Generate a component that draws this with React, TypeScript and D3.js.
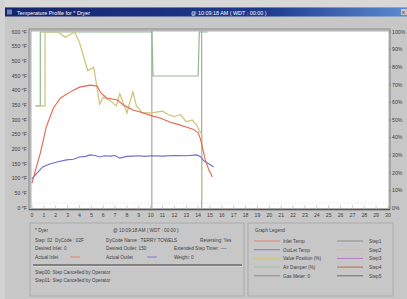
import { useEffect } from "react";
import * as d3 from "d3";

// ---- chart data ----
const inletT = [0, 0.3, 0.7, 1.2, 1.8, 2.4, 3.2, 4, 4.9, 5.5, 5.8, 6.3, 7.2, 7.7, 8.5, 9.4, 10.1, 10.8, 11.6, 12.3, 13, 13.6, 14, 14.2, 14.4, 14.6, 14.9, 15.2];
const inletF = [85, 130, 187, 276, 341, 375, 395, 412, 419, 415, 392, 375, 368, 351, 334, 324, 314, 307, 293, 285, 276, 268, 256, 235, 200, 164, 130, 106];

const outletT = [0, 0.5, 0.9, 1.5, 2.1, 2.9, 3.5, 4, 4.5, 4.9, 5.3, 5.7, 6.1, 6.6, 7, 7.4, 8, 8.5, 9, 9.5, 10, 11, 12, 13, 13.9, 14.2, 14.5, 15, 15.3];
const outletF = [100, 122, 140, 150, 157, 164, 166, 174, 176, 181, 179, 174, 178, 177, 179, 170, 176, 177, 178, 176, 178, 177, 179, 178, 181, 175, 160, 148, 140];

// valve position and air damper in percent (right axis)
const valveT = [0.3, 1.1, 1.1, 2.2, 2.8, 3.6, 4.0, 4.7, 5.2, 5.7, 6.0, 6.6, 7.1, 7.4, 8.0, 8.5, 8.8, 9.3, 10.1, 11, 11.5, 12, 12.5, 13, 13.5, 13.9, 14.1, 14.3, 14.3];
const valvePct = [58, 58, 100, 100, 97, 100, 94, 78, 80, 59, 63, 61, 58, 65, 54, 66, 58, 54, 54, 55, 53, 52, 53, 49, 50, 47, 44, 42, 5];

const damperT = [0.3, 0.7, 0.7, 10.1, 10.2, 14.0, 14.1, 14.8];
const damperPct = [58, 58, 100, 100, 75, 75, 100, 100];

const stepMarks = [10.1, 14.3];

const xTicks = d3.range(0, 31);
const yLeftTicks = d3.range(0, 601, 50);
const yRightTicks = d3.range(0, 101, 10);

const infoHeader = ["* Dyer", "@ 10:09:18 AM  ( WDT : 00:00  )"];
const infoRow1 = ["Step: 02", "DyCode : 02F", "DyCode Name : TERRY TOWELS", "Reversing: Yes"];
const infoRow2 = ["Desired Inlet: 0", "Desired Outlet: 150", "Extended Step Timer: ----"];
const infoRow3 = ["Actual Inlet", "Actual Outlet", "Weight: 0"];
const stepLog = ["Step00: Step Cancelled by Operator", "Step01: Step Cancelled by Operator"];

const legendLeft = ["Inlet Temp", "OutLet Temp", "Valve Position (%)", "Air Damper (%)", "Gas Meter: 0"];
const legendLeftColors = ["#e8806c", "#7a7ad6", "#cfc57e", "#92c492", "#8a8a8a"];
const legendRight = ["Step1", "Step2", "Step3", "Step4", "Step5"];
const legendRightColors = ["#8c8c8c", "#e6b87e", "#b47cc8", "#c8604e", "#6e6e6e"];

const W = 407;
const H = 299;
const FONT = "'Liberation Sans', Arial, sans-serif";
const TXT = "#404040";

export default function App() {
  useEffect(() => {
    document.body.style.margin = "0";
  }, []);

  const x = d3.scaleLinear().domain([0, 30]).range([32, 388]);
  const yF = d3.scaleLinear().domain([0, 600]).range([208, 32]);
  const yP = d3.scaleLinear().domain([0, 100]).range([208, 32]);

  const lineF = (ts: number[], vs: number[]) =>
    d3.line<number>().x((_, i) => x(ts[i])).y((v) => yF(v))(vs) || "";
  const lineP = (ts: number[], vs: number[]) =>
    d3.line<number>().x((_, i) => x(ts[i])).y((v) => yP(v))(vs) || "";

  const fs = 5.2;
  const fi = 4.7; // info / legend text

  return (
    <svg width={W} height={H} viewBox={`0 0 ${W} ${H}`} style={{ display: "block" }} fontFamily={FONT}>
      <defs>
        <linearGradient id="tb" x1="0" x2="1" y1="0" y2="0">
          <stop offset="0" stopColor="#16246c" />
          <stop offset="0.65" stopColor="#1e3a8e" />
          <stop offset="1" stopColor="#5b8bd2" />
        </linearGradient>
      </defs>
      {/* window background */}
      <rect x={0} y={0} width={W} height={H} fill="#c7c7c7" />
      <rect x={0} y={0} width={W} height={7} fill="#d8d8d8" />
      <rect x={0} y={0} width={5} height={H} fill="#d2d2d2" />

      {/* title bar */}
      <rect x={5} y={7.5} width={402} height={9} fill="url(#tb)" />
      <rect x={7} y={9.5} width={5} height={5} fill="#6d7fb8" />
      <text x={17} y={14.5} fontSize={5.4} fill="#ffffff">Temperature Profile for * Dryer</text>
      <text x={191} y={14.5} fontSize={5.4} fill="#ffffff">@ 10:09:18 AM   ( WDT : 00:00   )</text>
      <rect x={401} y={9} width={6} height={6} fill="#c8c8c8" />
      <text x={402} y={14} fontSize={5.5} fill="#222">x</text>

      {/* plot frame */}
      <rect x={29} y={29} width={361} height={181} fill="none" stroke="#8a8a8a" strokeWidth={1} />
      <rect x={31} y={31} width={358} height={177.5} fill="#ffffff" stroke="#a0a0a0" strokeWidth={0.8} />

      {/* faint baseline dots and minor ticks */}
      <line x1={x(0)} x2={x(30)} y1={203} y2={203} stroke="#dcdcdc" strokeWidth={0.8} strokeDasharray="1.5,2" />
      {xTicks.map((t) => (
        <line key={"mt" + t} x1={x(t)} x2={x(t)} y1={205} y2={208.5} stroke="#bdbdbd" strokeWidth={0.7} />
      ))}
      <line x1={29} x2={390} y1={209.5} y2={209.5} stroke="#555" strokeWidth={1.2} />

      {/* step markers */}
      {stepMarks.map((t) => (
        <line key={"s" + t} x1={x(t)} x2={x(t)} y1={31} y2={208} stroke="#9e9e9e" strokeWidth={1.1} />
      ))}

      {/* series */}
      <path d={lineP(damperT, damperPct)} fill="none" stroke="#92b892" strokeWidth={1.2} />
      <path d={lineP(valveT, valvePct)} fill="none" stroke="#cdc275" strokeWidth={1.2} />
      <path d={lineF(outletT, outletF)} fill="none" stroke="#6c6cd2" strokeWidth={1.1} />
      <path d={lineF(inletT, inletF)} fill="none" stroke="#e2644e" strokeWidth={1.1} />

      {/* left axis labels */}
      {yLeftTicks.map((v) => (
        <text key={"l" + v} x={27} y={yF(v) + 1.8} fontSize={fs} fill={TXT} textAnchor="end">
          {v} °F
        </text>
      ))}
      {/* right axis labels */}
      {yRightTicks.map((v) => (
        <g key={"r" + v}>
          <line x1={389} x2={391} y1={yP(v)} y2={yP(v)} stroke="#777" strokeWidth={0.6} />
          <text x={392} y={yP(v) + 1.8} fontSize={fs} fill={TXT}>
            {v}%
          </text>
        </g>
      ))}
      {/* x axis labels */}
      {xTicks.map((t) => (
        <text key={"x" + t} x={x(t)} y={217} fontSize={fs} fill={TXT} textAnchor="middle">
          {t}
        </text>
      ))}

      {/* info panel */}
      <rect x={30} y={223} width={214} height={73} fill="none" stroke="#a6a6a6" strokeWidth={0.8} />
      <text x={35} y={231.5} fontSize={fi} fill={TXT}>{infoHeader[0]}</text>
      <text x={113} y={231.5} fontSize={fi} fill={TXT}>{infoHeader[1]}</text>
      {[35, 55, 106, 200].map((px, i) => (
        <text key={"r1" + i} x={px} y={241.5} fontSize={fi} fill={TXT}>{infoRow1[i]}</text>
      ))}
      {[35, 106, 174].map((px, i) => (
        <text key={"r2" + i} x={px} y={250} fontSize={fi} fill={TXT}>{infoRow2[i]}</text>
      ))}
      {[35, 106, 174].map((px, i) => (
        <text key={"r3" + i} x={px} y={258.5} fontSize={fi} fill={TXT}>{infoRow3[i]}</text>
      ))}
      <line x1={70} x2={80} y1={257} y2={257} stroke="#e8806c" strokeWidth={1} />
      <line x1={147} x2={157} y1={257} y2={257} stroke="#7a7ad6" strokeWidth={1} />
      <line x1={33} x2={242} y1={265} y2={265} stroke="#6a6a6a" strokeWidth={1.4} />
      <line x1={33} x2={242} y1={266.5} y2={266.5} stroke="#e2e2e2" strokeWidth={0.6} />
      {stepLog.map((s, i) => (
        <text key={"sl" + i} x={35} y={273.5 + i * 8.5} fontSize={fi} fill={TXT}>{s}</text>
      ))}

      {/* legend panel */}
      <rect x={248} y={223} width={145} height={73} fill="none" stroke="#a6a6a6" strokeWidth={0.8} />
      <text x={255} y={231.5} fontSize={fi} fill={TXT}>Graph Legend</text>
      {legendLeft.map((s, i) => (
        <g key={"ll" + i}>
          <line x1={254} x2={280} y1={241 + i * 8.7} y2={241 + i * 8.7} stroke={legendLeftColors[i]} strokeWidth={1} />
          <text x={283} y={243 + i * 8.7} fontSize={fi} fill={TXT}>{s}</text>
        </g>
      ))}
      {legendRight.map((s, i) => (
        <g key={"lr" + i}>
          <line x1={337} x2={363} y1={241 + i * 8.7} y2={241 + i * 8.7} stroke={legendRightColors[i]} strokeWidth={1} />
          <text x={369} y={243 + i * 8.7} fontSize={fi} fill={TXT}>{s}</text>
        </g>
      ))}
    </svg>
  );
}
